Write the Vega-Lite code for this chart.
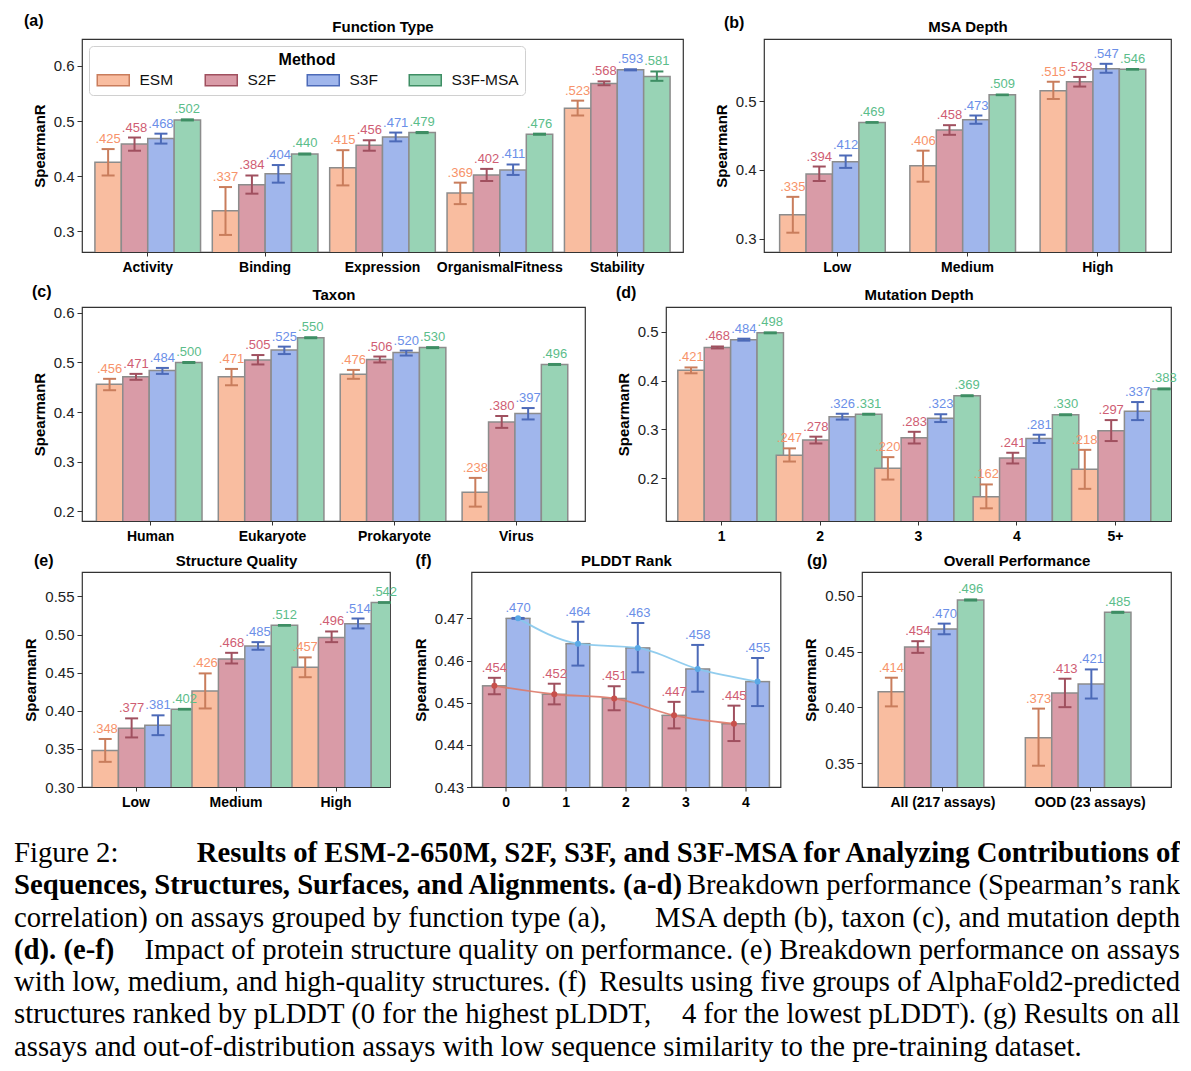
{
"$schema": "https://vega.github.io/schema/vega-lite/v6.json",
"padding": {"left": 14, "top": 12, "right": 0, "bottom": 0},
"autosize": {"type": "pad"},
"config": {
  "font": "Liberation Sans",
  "view": {"stroke": "#333333", "strokeWidth": 1.2},
  "axis": {"grid": false, "domain": false, "labelFontSize": 15, "labelColor": "#222222", "tickColor": "#333333", "tickSize": 5, "titleFontSize": 15, "titleFontWeight": "bold", "titleColor": "#000000", "labelPadding": 3},
  "axisX": {"labelFontSize": 14, "labelFontWeight": "bold", "labelAngle": 0, "tickSize": 4, "labelPadding": 4, "labelColor": "#000000"},
  "axisY": {"titlePadding": 6},
  "title": {"fontSize": 16, "fontWeight": "bold", "anchor": "start", "frame": "group", "offset": 0, "color": "#000000"}
},
"datasets": {
  "a": [
    {"cat":"Activity","m":"ESM","v":0.425,"lo":0.401,"hi":0.449,"lab":".425"},
    {"cat":"Activity","m":"S2F","v":0.458,"lo":0.446,"hi":0.470,"lab":".458"},
    {"cat":"Activity","m":"S3F","v":0.468,"lo":0.459,"hi":0.477,"lab":".468"},
    {"cat":"Activity","m":"S3F-MSA","v":0.502,"lo":0.501,"hi":0.503,"lab":".502"},
    {"cat":"Binding","m":"ESM","v":0.337,"lo":0.293,"hi":0.380,"lab":".337"},
    {"cat":"Binding","m":"S2F","v":0.384,"lo":0.368,"hi":0.401,"lab":".384"},
    {"cat":"Binding","m":"S3F","v":0.404,"lo":0.388,"hi":0.420,"lab":".404"},
    {"cat":"Binding","m":"S3F-MSA","v":0.440,"lo":0.439,"hi":0.441,"lab":".440"},
    {"cat":"Expression","m":"ESM","v":0.415,"lo":0.383,"hi":0.447,"lab":".415"},
    {"cat":"Expression","m":"S2F","v":0.456,"lo":0.446,"hi":0.465,"lab":".456"},
    {"cat":"Expression","m":"S3F","v":0.471,"lo":0.463,"hi":0.479,"lab":".471"},
    {"cat":"Expression","m":"S3F-MSA","v":0.479,"lo":0.478,"hi":0.480,"lab":".479"},
    {"cat":"OrganismalFitness","m":"ESM","v":0.369,"lo":0.349,"hi":0.388,"lab":".369"},
    {"cat":"OrganismalFitness","m":"S2F","v":0.402,"lo":0.391,"hi":0.413,"lab":".402"},
    {"cat":"OrganismalFitness","m":"S3F","v":0.411,"lo":0.402,"hi":0.421,"lab":".411"},
    {"cat":"OrganismalFitness","m":"S3F-MSA","v":0.476,"lo":0.475,"hi":0.477,"lab":".476"},
    {"cat":"Stability","m":"ESM","v":0.523,"lo":0.510,"hi":0.537,"lab":".523"},
    {"cat":"Stability","m":"S2F","v":0.568,"lo":0.565,"hi":0.572,"lab":".568"},
    {"cat":"Stability","m":"S3F","v":0.593,"lo":0.592,"hi":0.594,"lab":".593"},
    {"cat":"Stability","m":"S3F-MSA","v":0.581,"lo":0.573,"hi":0.590,"lab":".581"}
  ],
  "b": [
    {"cat":"Low","m":"ESM","v":0.335,"lo":0.309,"hi":0.361,"lab":".335"},
    {"cat":"Low","m":"S2F","v":0.394,"lo":0.384,"hi":0.405,"lab":".394"},
    {"cat":"Low","m":"S3F","v":0.412,"lo":0.403,"hi":0.421,"lab":".412"},
    {"cat":"Low","m":"S3F-MSA","v":0.469,"lo":0.4685,"hi":0.4695,"lab":".469"},
    {"cat":"Medium","m":"ESM","v":0.406,"lo":0.383,"hi":0.428,"lab":".406"},
    {"cat":"Medium","m":"S2F","v":0.458,"lo":0.451,"hi":0.465,"lab":".458"},
    {"cat":"Medium","m":"S3F","v":0.473,"lo":0.467,"hi":0.479,"lab":".473"},
    {"cat":"Medium","m":"S3F-MSA","v":0.509,"lo":0.5085,"hi":0.5095,"lab":".509"},
    {"cat":"High","m":"ESM","v":0.515,"lo":0.503,"hi":0.528,"lab":".515"},
    {"cat":"High","m":"S2F","v":0.528,"lo":0.521,"hi":0.535,"lab":".528"},
    {"cat":"High","m":"S3F","v":0.547,"lo":0.541,"hi":0.554,"lab":".547"},
    {"cat":"High","m":"S3F-MSA","v":0.546,"lo":0.5455,"hi":0.5465,"lab":".546"}
  ],
  "c": [
    {"cat":"Human","m":"ESM","v":0.456,"lo":0.444,"hi":0.467,"lab":".456"},
    {"cat":"Human","m":"S2F","v":0.471,"lo":0.465,"hi":0.477,"lab":".471"},
    {"cat":"Human","m":"S3F","v":0.484,"lo":0.477,"hi":0.489,"lab":".484"},
    {"cat":"Human","m":"S3F-MSA","v":0.500,"lo":0.499,"hi":0.501,"lab":".500"},
    {"cat":"Eukaryote","m":"ESM","v":0.471,"lo":0.454,"hi":0.487,"lab":".471"},
    {"cat":"Eukaryote","m":"S2F","v":0.505,"lo":0.496,"hi":0.515,"lab":".505"},
    {"cat":"Eukaryote","m":"S3F","v":0.525,"lo":0.517,"hi":0.532,"lab":".525"},
    {"cat":"Eukaryote","m":"S3F-MSA","v":0.550,"lo":0.549,"hi":0.551,"lab":".550"},
    {"cat":"Prokaryote","m":"ESM","v":0.476,"lo":0.467,"hi":0.485,"lab":".476"},
    {"cat":"Prokaryote","m":"S2F","v":0.506,"lo":0.500,"hi":0.512,"lab":".506"},
    {"cat":"Prokaryote","m":"S3F","v":0.520,"lo":0.514,"hi":0.524,"lab":".520"},
    {"cat":"Prokaryote","m":"S3F-MSA","v":0.530,"lo":0.529,"hi":0.531,"lab":".530"},
    {"cat":"Virus","m":"ESM","v":0.238,"lo":0.209,"hi":0.267,"lab":".238"},
    {"cat":"Virus","m":"S2F","v":0.380,"lo":0.368,"hi":0.392,"lab":".380"},
    {"cat":"Virus","m":"S3F","v":0.397,"lo":0.385,"hi":0.408,"lab":".397"},
    {"cat":"Virus","m":"S3F-MSA","v":0.496,"lo":0.495,"hi":0.497,"lab":".496"}
  ],
  "d": [
    {"cat":"1","m":"ESM","v":0.421,"lo":0.415,"hi":0.427,"lab":".421"},
    {"cat":"1","m":"S2F","v":0.468,"lo":0.466,"hi":0.470,"lab":".468"},
    {"cat":"1","m":"S3F","v":0.484,"lo":0.482,"hi":0.486,"lab":".484"},
    {"cat":"1","m":"S3F-MSA","v":0.498,"lo":0.497,"hi":0.499,"lab":".498"},
    {"cat":"2","m":"ESM","v":0.247,"lo":0.234,"hi":0.261,"lab":".247"},
    {"cat":"2","m":"S2F","v":0.278,"lo":0.271,"hi":0.285,"lab":".278"},
    {"cat":"2","m":"S3F","v":0.326,"lo":0.320,"hi":0.332,"lab":".326"},
    {"cat":"2","m":"S3F-MSA","v":0.331,"lo":0.330,"hi":0.332,"lab":".331"},
    {"cat":"3","m":"ESM","v":0.220,"lo":0.197,"hi":0.243,"lab":".220"},
    {"cat":"3","m":"S2F","v":0.283,"lo":0.271,"hi":0.295,"lab":".283"},
    {"cat":"3","m":"S3F","v":0.323,"lo":0.315,"hi":0.331,"lab":".323"},
    {"cat":"3","m":"S3F-MSA","v":0.369,"lo":0.368,"hi":0.370,"lab":".369"},
    {"cat":"4","m":"ESM","v":0.162,"lo":0.138,"hi":0.187,"lab":".162"},
    {"cat":"4","m":"S2F","v":0.241,"lo":0.230,"hi":0.252,"lab":".241"},
    {"cat":"4","m":"S3F","v":0.281,"lo":0.272,"hi":0.289,"lab":".281"},
    {"cat":"4","m":"S3F-MSA","v":0.330,"lo":0.329,"hi":0.331,"lab":".330"},
    {"cat":"5+","m":"ESM","v":0.218,"lo":0.178,"hi":0.258,"lab":".218"},
    {"cat":"5+","m":"S2F","v":0.297,"lo":0.276,"hi":0.319,"lab":".297"},
    {"cat":"5+","m":"S3F","v":0.337,"lo":0.319,"hi":0.356,"lab":".337"},
    {"cat":"5+","m":"S3F-MSA","v":0.383,"lo":0.382,"hi":0.384,"lab":".383"}
  ],
  "e": [
    {"cat":"Low","m":"ESM","v":0.348,"lo":0.333,"hi":0.363,"lab":".348"},
    {"cat":"Low","m":"S2F","v":0.377,"lo":0.365,"hi":0.390,"lab":".377"},
    {"cat":"Low","m":"S3F","v":0.381,"lo":0.368,"hi":0.394,"lab":".381"},
    {"cat":"Low","m":"S3F-MSA","v":0.402,"lo":0.4015,"hi":0.4025,"lab":".402"},
    {"cat":"Medium","m":"ESM","v":0.426,"lo":0.403,"hi":0.449,"lab":".426"},
    {"cat":"Medium","m":"S2F","v":0.468,"lo":0.462,"hi":0.476,"lab":".468"},
    {"cat":"Medium","m":"S3F","v":0.485,"lo":0.480,"hi":0.490,"lab":".485"},
    {"cat":"Medium","m":"S3F-MSA","v":0.512,"lo":0.5115,"hi":0.5125,"lab":".512"},
    {"cat":"High","m":"ESM","v":0.457,"lo":0.444,"hi":0.470,"lab":".457"},
    {"cat":"High","m":"S2F","v":0.496,"lo":0.490,"hi":0.504,"lab":".496"},
    {"cat":"High","m":"S3F","v":0.514,"lo":0.508,"hi":0.521,"lab":".514"},
    {"cat":"High","m":"S3F-MSA","v":0.542,"lo":0.5415,"hi":0.5425,"lab":".542"}
  ],
  "f": [
    {"cat":"0","m":"S2F","v":0.454,"lo":0.4520,"hi":0.4559,"lab":".454"},
    {"cat":"0","m":"S3F","v":0.470,"lo":0.4699,"hi":0.4701,"lab":".470"},
    {"cat":"1","m":"S2F","v":0.452,"lo":0.4496,"hi":0.4545,"lab":".452"},
    {"cat":"1","m":"S3F","v":0.464,"lo":0.4588,"hi":0.4692,"lab":".464"},
    {"cat":"2","m":"S2F","v":0.451,"lo":0.4482,"hi":0.4539,"lab":".451"},
    {"cat":"2","m":"S3F","v":0.463,"lo":0.4572,"hi":0.4689,"lab":".463"},
    {"cat":"3","m":"S2F","v":0.447,"lo":0.4439,"hi":0.4502,"lab":".447"},
    {"cat":"3","m":"S3F","v":0.458,"lo":0.4526,"hi":0.4637,"lab":".458"},
    {"cat":"4","m":"S2F","v":0.445,"lo":0.4409,"hi":0.4493,"lab":".445"},
    {"cat":"4","m":"S3F","v":0.455,"lo":0.4492,"hi":0.4606,"lab":".455"}
  ],
  "g": [
    {"cat":"All (217 assays)","m":"ESM","v":0.414,"lo":0.4010,"hi":0.4266,"lab":".414"},
    {"cat":"All (217 assays)","m":"S2F","v":0.454,"lo":0.4488,"hi":0.4592,"lab":".454"},
    {"cat":"All (217 assays)","m":"S3F","v":0.470,"lo":0.4654,"hi":0.4749,"lab":".470"},
    {"cat":"All (217 assays)","m":"S3F-MSA","v":0.496,"lo":0.4955,"hi":0.4965,"lab":".496"},
    {"cat":"OOD (23 assays)","m":"ESM","v":0.373,"lo":0.348,"hi":0.399,"lab":".373"},
    {"cat":"OOD (23 assays)","m":"S2F","v":0.413,"lo":0.4003,"hi":0.4257,"lab":".413"},
    {"cat":"OOD (23 assays)","m":"S3F","v":0.421,"lo":0.408,"hi":0.434,"lab":".421"},
    {"cat":"OOD (23 assays)","m":"S3F-MSA","v":0.485,"lo":0.4845,"hi":0.4855,"lab":".485"}
  ],
  "caption": [
    {"line":1,"part":"start","bold":false,"text":"Figure 2:"},
    {"line":1,"part":"end","bold":true,"text":"Results of ESM-2-650M, S2F, S3F, and S3F-MSA for Analyzing Contributions of"},
    {"line":2,"part":"start","bold":true,"text":"Sequences, Structures, Surfaces, and Alignments. (a-d)"},
    {"line":2,"part":"end","bold":false,"text":"Breakdown performance (Spearman’s rank"},
    {"line":3,"part":"start","bold":false,"text":"correlation) on assays grouped by function type (a),"},
    {"line":3,"part":"end","bold":false,"text":"MSA depth (b), taxon (c), and mutation depth"},
    {"line":4,"part":"start","bold":true,"text":"(d). (e-f)"},
    {"line":4,"part":"end","bold":false,"text":"Impact of protein structure quality on performance. (e) Breakdown performance on assays"},
    {"line":5,"part":"start","bold":false,"text":"with low, medium, and high-quality structures. (f)"},
    {"line":5,"part":"end","bold":false,"text":"Results using five groups of AlphaFold2-predicted"},
    {"line":6,"part":"start","bold":false,"text":"structures ranked by pLDDT (0 for the highest pLDDT,"},
    {"line":6,"part":"end","bold":false,"text":"4 for the lowest pLDDT). (g) Results on all"},
    {"line":7,"part":"start","bold":false,"text":"assays and out-of-distribution assays with low sequence similarity to the pre-training dataset."}
  ]
},
"spacing": 8,
"bounds": "full",
"resolve": {"scale": {"fill": "independent", "stroke": "independent", "color": "independent"}, "legend": {"fill": "independent", "stroke": "independent", "color": "independent"}},
"vconcat": [
  {
    "spacing": 81,
    "bounds": "flush",
    "resolve": {"scale": {"fill": "independent", "stroke": "independent", "color": "independent"}, "legend": {"fill": "independent", "stroke": "independent", "color": "independent"}},
    "hconcat": [
      {
        "width": 601, "height": 213,
        "data": {"name": "a"},
        "title": {"text": "(a)", "dx": -58, "dy": 14},
        "resolve": {"axis": {"x": "independent"}},
        "layer": [
          {"mark": {"type": "bar", "clip": true, "stroke": "#8c8c8c", "strokeWidth": 1.5},
           "encoding": {
             "x": {"field": "cat", "type": "nominal", "sort": null, "title": null, "scale": {"type": "band", "paddingInner": 0.1, "paddingOuter": 0.11}},
             "xOffset": {"field": "m", "type": "nominal", "sort": ["ESM","S2F","S3F","S3F-MSA"], "scale": {"type": "band"}},
             "y": {"field": "v", "type": "quantitative", "title": "SpearmanR", "scale": {"domain": [0.262, 0.649], "nice": false, "zero": false}, "axis": {"values": [0.3,0.4,0.5,0.6], "format": ".1f"}},
             "fill": {"field": "m", "type": "nominal", "scale": {"domain": ["ESM","S2F","S3F","S3F-MSA"], "range": ["#f9bda0","#d99ba7","#a0b6ec","#98d3b5"]},
               "legend": {"title": "Method", "orient": "top-left", "offset": 7, "direction": "horizontal", "columns": 4, "symbolType": "M-1,-1H4.82V1H-1Z", "symbolSize": 121, "symbolStrokeColor": "#8c8c8c", "symbolStrokeWidth": 1.5, "symbolOpacity": 1, "labelOffset": 29, "labelFontSize": 15.5, "labelColor": "#111111", "titleFontSize": 16, "titleFontWeight": "bold", "titleColor": "#000000", "titleAnchor": "middle", "titleAlign": "center", "titlePadding": 4, "columnPadding": 28, "padding": 6, "fillColor": "#ffffff", "strokeColor": "#d0d0d0", "cornerRadius": 4}}
           }},
          {"mark": {"type": "rule", "strokeWidth": 2},
           "encoding": {
             "x": {"field": "cat", "type": "nominal", "sort": null, "axis": null},
             "xOffset": {"field": "m", "type": "nominal", "sort": ["ESM","S2F","S3F","S3F-MSA"]},
             "y": {"field": "lo", "type": "quantitative", "title": "SpearmanR"},
             "y2": {"field": "hi"},
             "stroke": {"field": "m", "type": "nominal", "scale": {"domain": ["ESM","S2F","S3F","S3F-MSA"], "range": ["#c97d5c","#a0505f","#4c6ab8","#3e8e64"]}, "legend": null}
           }},
          {"mark": {"type": "point", "shape": "stroke", "size": 169, "strokeWidth": 2, "opacity": 1},
           "encoding": {
             "x": {"field": "cat", "type": "nominal", "sort": null, "axis": null},
             "xOffset": {"field": "m", "type": "nominal", "sort": ["ESM","S2F","S3F","S3F-MSA"]},
             "y": {"field": "lo", "type": "quantitative", "title": "SpearmanR"},
             "stroke": {"field": "m", "type": "nominal", "scale": {"domain": ["ESM","S2F","S3F","S3F-MSA"], "range": ["#c97d5c","#a0505f","#4c6ab8","#3e8e64"]}, "legend": null}
           }},
          {"mark": {"type": "point", "shape": "stroke", "size": 169, "strokeWidth": 2, "opacity": 1},
           "encoding": {
             "x": {"field": "cat", "type": "nominal", "sort": null, "axis": null},
             "xOffset": {"field": "m", "type": "nominal", "sort": ["ESM","S2F","S3F","S3F-MSA"]},
             "y": {"field": "hi", "type": "quantitative", "title": "SpearmanR"},
             "stroke": {"field": "m", "type": "nominal", "scale": {"domain": ["ESM","S2F","S3F","S3F-MSA"], "range": ["#c97d5c","#a0505f","#4c6ab8","#3e8e64"]}, "legend": null}
           }},
          {"mark": {"type": "text", "baseline": "alphabetic", "dy": -6, "fontSize": 13},
           "encoding": {
             "x": {"field": "cat", "type": "nominal", "sort": null, "axis": {"orient": "top", "title": "Function Type", "labels": false, "ticks": false, "domain": false, "minExtent": 0, "titlePadding": 5}},
             "xOffset": {"field": "m", "type": "nominal", "sort": ["ESM","S2F","S3F","S3F-MSA"]},
             "y": {"field": "hi", "type": "quantitative", "title": "SpearmanR"},
             "text": {"field": "lab"},
             "color": {"field": "m", "type": "nominal", "scale": {"domain": ["ESM","S2F","S3F","S3F-MSA"], "range": ["#f7936a","#cf5d73","#6b8fe8","#5bbd8a"]}, "legend": null}
           }}
        ]
      },
      {
        "width": 407, "height": 213,
        "data": {"name": "b"},
        "title": {"text": "(b)", "dx": -40, "dy": 16},
        "resolve": {"axis": {"x": "independent"}},
        "layer": [
          {"mark": {"type": "bar", "clip": true, "stroke": "#8c8c8c", "strokeWidth": 1.5},
           "encoding": {
             "x": {"field": "cat", "type": "nominal", "sort": null, "title": null, "scale": {"type": "band", "paddingInner": 0.115, "paddingOuter": 0.12}},
             "xOffset": {"field": "m", "type": "nominal", "sort": ["ESM","S2F","S3F","S3F-MSA"], "scale": {"type": "band"}},
             "y": {"field": "v", "type": "quantitative", "title": "SpearmanR", "scale": {"domain": [0.281, 0.590], "nice": false, "zero": false}, "axis": {"values": [0.3,0.4,0.5], "format": ".1f"}},
             "fill": {"field": "m", "type": "nominal", "scale": {"domain": ["ESM","S2F","S3F","S3F-MSA"], "range": ["#f9bda0","#d99ba7","#a0b6ec","#98d3b5"]}, "legend": null}
           }},
          {"mark": {"type": "rule", "strokeWidth": 2},
           "encoding": {
             "x": {"field": "cat", "type": "nominal", "sort": null, "axis": null},
             "xOffset": {"field": "m", "type": "nominal", "sort": ["ESM","S2F","S3F","S3F-MSA"]},
             "y": {"field": "lo", "type": "quantitative", "title": "SpearmanR"},
             "y2": {"field": "hi"},
             "stroke": {"field": "m", "type": "nominal", "scale": {"domain": ["ESM","S2F","S3F","S3F-MSA"], "range": ["#c97d5c","#a0505f","#4c6ab8","#3e8e64"]}, "legend": null}
           }},
          {"mark": {"type": "point", "shape": "stroke", "size": 169, "strokeWidth": 2, "opacity": 1},
           "encoding": {
             "x": {"field": "cat", "type": "nominal", "sort": null, "axis": null},
             "xOffset": {"field": "m", "type": "nominal", "sort": ["ESM","S2F","S3F","S3F-MSA"]},
             "y": {"field": "lo", "type": "quantitative", "title": "SpearmanR"},
             "stroke": {"field": "m", "type": "nominal", "scale": {"domain": ["ESM","S2F","S3F","S3F-MSA"], "range": ["#c97d5c","#a0505f","#4c6ab8","#3e8e64"]}, "legend": null}
           }},
          {"mark": {"type": "point", "shape": "stroke", "size": 169, "strokeWidth": 2, "opacity": 1},
           "encoding": {
             "x": {"field": "cat", "type": "nominal", "sort": null, "axis": null},
             "xOffset": {"field": "m", "type": "nominal", "sort": ["ESM","S2F","S3F","S3F-MSA"]},
             "y": {"field": "hi", "type": "quantitative", "title": "SpearmanR"},
             "stroke": {"field": "m", "type": "nominal", "scale": {"domain": ["ESM","S2F","S3F","S3F-MSA"], "range": ["#c97d5c","#a0505f","#4c6ab8","#3e8e64"]}, "legend": null}
           }},
          {"mark": {"type": "text", "baseline": "alphabetic", "dy": -6, "fontSize": 13},
           "encoding": {
             "x": {"field": "cat", "type": "nominal", "sort": null, "axis": {"orient": "top", "title": "MSA Depth", "labels": false, "ticks": false, "domain": false, "minExtent": 0, "titlePadding": 5}},
             "xOffset": {"field": "m", "type": "nominal", "sort": ["ESM","S2F","S3F","S3F-MSA"]},
             "y": {"field": "hi", "type": "quantitative", "title": "SpearmanR"},
             "text": {"field": "lab"},
             "color": {"field": "m", "type": "nominal", "scale": {"domain": ["ESM","S2F","S3F","S3F-MSA"], "range": ["#f7936a","#cf5d73","#6b8fe8","#5bbd8a"]}, "legend": null}
           }}
        ]
      }
    ]
  },
  {
    "spacing": 81,
    "bounds": "flush",
    "resolve": {"scale": {"fill": "independent", "stroke": "independent", "color": "independent"}, "legend": {"fill": "independent", "stroke": "independent", "color": "independent"}},
    "hconcat": [
      {
        "width": 503, "height": 214,
        "data": {"name": "c"},
        "title": {"text": "(c)", "dx": -50, "dy": 17},
        "resolve": {"axis": {"x": "independent"}},
        "layer": [
          {"mark": {"type": "bar", "clip": true, "stroke": "#8c8c8c", "strokeWidth": 1.5},
           "encoding": {
             "x": {"field": "cat", "type": "nominal", "sort": null, "title": null, "scale": {"type": "band", "paddingInner": 0.11, "paddingOuter": 0.118}},
             "xOffset": {"field": "m", "type": "nominal", "sort": ["ESM","S2F","S3F","S3F-MSA"], "scale": {"type": "band"}},
             "y": {"field": "v", "type": "quantitative", "title": "SpearmanR", "scale": {"domain": [0.180, 0.612], "nice": false, "zero": false}, "axis": {"values": [0.2,0.3,0.4,0.5,0.6], "format": ".1f"}},
             "fill": {"field": "m", "type": "nominal", "scale": {"domain": ["ESM","S2F","S3F","S3F-MSA"], "range": ["#f9bda0","#d99ba7","#a0b6ec","#98d3b5"]}, "legend": null}
           }},
          {"mark": {"type": "rule", "strokeWidth": 2},
           "encoding": {
             "x": {"field": "cat", "type": "nominal", "sort": null, "axis": null},
             "xOffset": {"field": "m", "type": "nominal", "sort": ["ESM","S2F","S3F","S3F-MSA"]},
             "y": {"field": "lo", "type": "quantitative", "title": "SpearmanR"},
             "y2": {"field": "hi"},
             "stroke": {"field": "m", "type": "nominal", "scale": {"domain": ["ESM","S2F","S3F","S3F-MSA"], "range": ["#c97d5c","#a0505f","#4c6ab8","#3e8e64"]}, "legend": null}
           }},
          {"mark": {"type": "point", "shape": "stroke", "size": 169, "strokeWidth": 2, "opacity": 1},
           "encoding": {
             "x": {"field": "cat", "type": "nominal", "sort": null, "axis": null},
             "xOffset": {"field": "m", "type": "nominal", "sort": ["ESM","S2F","S3F","S3F-MSA"]},
             "y": {"field": "lo", "type": "quantitative", "title": "SpearmanR"},
             "stroke": {"field": "m", "type": "nominal", "scale": {"domain": ["ESM","S2F","S3F","S3F-MSA"], "range": ["#c97d5c","#a0505f","#4c6ab8","#3e8e64"]}, "legend": null}
           }},
          {"mark": {"type": "point", "shape": "stroke", "size": 169, "strokeWidth": 2, "opacity": 1},
           "encoding": {
             "x": {"field": "cat", "type": "nominal", "sort": null, "axis": null},
             "xOffset": {"field": "m", "type": "nominal", "sort": ["ESM","S2F","S3F","S3F-MSA"]},
             "y": {"field": "hi", "type": "quantitative", "title": "SpearmanR"},
             "stroke": {"field": "m", "type": "nominal", "scale": {"domain": ["ESM","S2F","S3F","S3F-MSA"], "range": ["#c97d5c","#a0505f","#4c6ab8","#3e8e64"]}, "legend": null}
           }},
          {"mark": {"type": "text", "baseline": "alphabetic", "dy": -6, "fontSize": 13},
           "encoding": {
             "x": {"field": "cat", "type": "nominal", "sort": null, "axis": {"orient": "top", "title": "Taxon", "labels": false, "ticks": false, "domain": false, "minExtent": 0, "titlePadding": 5}},
             "xOffset": {"field": "m", "type": "nominal", "sort": ["ESM","S2F","S3F","S3F-MSA"]},
             "y": {"field": "hi", "type": "quantitative", "title": "SpearmanR"},
             "text": {"field": "lab"},
             "color": {"field": "m", "type": "nominal", "scale": {"domain": ["ESM","S2F","S3F","S3F-MSA"], "range": ["#f7936a","#cf5d73","#6b8fe8","#5bbd8a"]}, "legend": null}
           }}
        ]
      },
      {
        "width": 505, "height": 214,
        "data": {"name": "d"},
        "title": {"text": "(d)", "dx": -50, "dy": 18},
        "resolve": {"axis": {"x": "independent"}},
        "layer": [
          {"mark": {"type": "bar", "clip": true, "stroke": "#8c8c8c", "strokeWidth": 1.5},
           "encoding": {
             "x": {"field": "cat", "type": "nominal", "sort": null, "title": null, "scale": {"type": "band", "paddingInner": 0.11, "paddingOuter": 0.12}},
             "xOffset": {"field": "m", "type": "nominal", "sort": ["ESM","S2F","S3F","S3F-MSA"], "scale": {"type": "band"}},
             "y": {"field": "v", "type": "quantitative", "title": "SpearmanR", "scale": {"domain": [0.112, 0.551], "nice": false, "zero": false}, "axis": {"values": [0.2,0.3,0.4,0.5], "format": ".1f"}},
             "fill": {"field": "m", "type": "nominal", "scale": {"domain": ["ESM","S2F","S3F","S3F-MSA"], "range": ["#f9bda0","#d99ba7","#a0b6ec","#98d3b5"]}, "legend": null}
           }},
          {"mark": {"type": "rule", "strokeWidth": 2},
           "encoding": {
             "x": {"field": "cat", "type": "nominal", "sort": null, "axis": null},
             "xOffset": {"field": "m", "type": "nominal", "sort": ["ESM","S2F","S3F","S3F-MSA"]},
             "y": {"field": "lo", "type": "quantitative", "title": "SpearmanR"},
             "y2": {"field": "hi"},
             "stroke": {"field": "m", "type": "nominal", "scale": {"domain": ["ESM","S2F","S3F","S3F-MSA"], "range": ["#c97d5c","#a0505f","#4c6ab8","#3e8e64"]}, "legend": null}
           }},
          {"mark": {"type": "point", "shape": "stroke", "size": 169, "strokeWidth": 2, "opacity": 1},
           "encoding": {
             "x": {"field": "cat", "type": "nominal", "sort": null, "axis": null},
             "xOffset": {"field": "m", "type": "nominal", "sort": ["ESM","S2F","S3F","S3F-MSA"]},
             "y": {"field": "lo", "type": "quantitative", "title": "SpearmanR"},
             "stroke": {"field": "m", "type": "nominal", "scale": {"domain": ["ESM","S2F","S3F","S3F-MSA"], "range": ["#c97d5c","#a0505f","#4c6ab8","#3e8e64"]}, "legend": null}
           }},
          {"mark": {"type": "point", "shape": "stroke", "size": 169, "strokeWidth": 2, "opacity": 1},
           "encoding": {
             "x": {"field": "cat", "type": "nominal", "sort": null, "axis": null},
             "xOffset": {"field": "m", "type": "nominal", "sort": ["ESM","S2F","S3F","S3F-MSA"]},
             "y": {"field": "hi", "type": "quantitative", "title": "SpearmanR"},
             "stroke": {"field": "m", "type": "nominal", "scale": {"domain": ["ESM","S2F","S3F","S3F-MSA"], "range": ["#c97d5c","#a0505f","#4c6ab8","#3e8e64"]}, "legend": null}
           }},
          {"mark": {"type": "text", "baseline": "alphabetic", "dy": -6, "fontSize": 13},
           "encoding": {
             "x": {"field": "cat", "type": "nominal", "sort": null, "axis": {"orient": "top", "title": "Mutation Depth", "labels": false, "ticks": false, "domain": false, "minExtent": 0, "titlePadding": 5}},
             "xOffset": {"field": "m", "type": "nominal", "sort": ["ESM","S2F","S3F","S3F-MSA"]},
             "y": {"field": "hi", "type": "quantitative", "title": "SpearmanR"},
             "text": {"field": "lab"},
             "color": {"field": "m", "type": "nominal", "scale": {"domain": ["ESM","S2F","S3F","S3F-MSA"], "range": ["#f7936a","#cf5d73","#6b8fe8","#5bbd8a"]}, "legend": null}
           }}
        ]
      }
    ]
  },
  {
    "spacing": 81.5,
    "bounds": "flush",
    "resolve": {"scale": {"fill": "independent", "stroke": "independent", "color": "independent"}, "legend": {"fill": "independent", "stroke": "independent", "color": "independent"}},
    "hconcat": [
      {
        "width": 308, "height": 215,
        "data": {"name": "e"},
        "title": {"text": "(e)", "dx": -48, "dy": 20},
        "resolve": {"axis": {"x": "independent"}},
        "layer": [
          {"mark": {"type": "bar", "clip": true, "stroke": "#8c8c8c", "strokeWidth": 1.5},
           "encoding": {
             "x": {"field": "cat", "type": "nominal", "sort": null, "title": null, "scale": {"type": "band", "paddingInner": 0.12, "paddingOuter": 0.1}},
             "xOffset": {"field": "m", "type": "nominal", "sort": ["ESM","S2F","S3F","S3F-MSA"], "scale": {"type": "band"}},
             "y": {"field": "v", "type": "quantitative", "title": "SpearmanR", "scale": {"domain": [0.30, 0.582], "nice": false, "zero": false}, "axis": {"values": [0.30,0.35,0.40,0.45,0.50,0.55], "format": ".2f"}},
             "fill": {"field": "m", "type": "nominal", "scale": {"domain": ["ESM","S2F","S3F","S3F-MSA"], "range": ["#f9bda0","#d99ba7","#a0b6ec","#98d3b5"]}, "legend": null}
           }},
          {"mark": {"type": "rule", "strokeWidth": 2},
           "encoding": {
             "x": {"field": "cat", "type": "nominal", "sort": null, "axis": null},
             "xOffset": {"field": "m", "type": "nominal", "sort": ["ESM","S2F","S3F","S3F-MSA"]},
             "y": {"field": "lo", "type": "quantitative", "title": "SpearmanR"},
             "y2": {"field": "hi"},
             "stroke": {"field": "m", "type": "nominal", "scale": {"domain": ["ESM","S2F","S3F","S3F-MSA"], "range": ["#c97d5c","#a0505f","#4c6ab8","#3e8e64"]}, "legend": null}
           }},
          {"mark": {"type": "point", "shape": "stroke", "size": 169, "strokeWidth": 2, "opacity": 1},
           "encoding": {
             "x": {"field": "cat", "type": "nominal", "sort": null, "axis": null},
             "xOffset": {"field": "m", "type": "nominal", "sort": ["ESM","S2F","S3F","S3F-MSA"]},
             "y": {"field": "lo", "type": "quantitative", "title": "SpearmanR"},
             "stroke": {"field": "m", "type": "nominal", "scale": {"domain": ["ESM","S2F","S3F","S3F-MSA"], "range": ["#c97d5c","#a0505f","#4c6ab8","#3e8e64"]}, "legend": null}
           }},
          {"mark": {"type": "point", "shape": "stroke", "size": 169, "strokeWidth": 2, "opacity": 1},
           "encoding": {
             "x": {"field": "cat", "type": "nominal", "sort": null, "axis": null},
             "xOffset": {"field": "m", "type": "nominal", "sort": ["ESM","S2F","S3F","S3F-MSA"]},
             "y": {"field": "hi", "type": "quantitative", "title": "SpearmanR"},
             "stroke": {"field": "m", "type": "nominal", "scale": {"domain": ["ESM","S2F","S3F","S3F-MSA"], "range": ["#c97d5c","#a0505f","#4c6ab8","#3e8e64"]}, "legend": null}
           }},
          {"mark": {"type": "text", "baseline": "alphabetic", "dy": -6, "fontSize": 13},
           "encoding": {
             "x": {"field": "cat", "type": "nominal", "sort": null, "axis": {"orient": "top", "title": "Structure Quality", "labels": false, "ticks": false, "domain": false, "minExtent": 0, "titlePadding": 4}},
             "xOffset": {"field": "m", "type": "nominal", "sort": ["ESM","S2F","S3F","S3F-MSA"]},
             "y": {"field": "hi", "type": "quantitative", "title": "SpearmanR"},
             "text": {"field": "lab"},
             "color": {"field": "m", "type": "nominal", "scale": {"domain": ["ESM","S2F","S3F","S3F-MSA"], "range": ["#f7936a","#cf5d73","#6b8fe8","#5bbd8a"]}, "legend": null}
           }}
        ]
      },
      {
        "width": 309, "height": 215,
        "data": {"name": "f"},
        "title": {"text": "(f)", "dx": -56, "dy": 20},
        "resolve": {"axis": {"x": "independent"}},
        "layer": [
          {"transform": [{"filter": "datum.m == 'S2F'"}],
           "mark": {"type": "rule", "strokeWidth": 25.1, "color": "#8c8c8c"},
           "encoding": {
             "x": {"field": "cat", "type": "nominal", "sort": null, "title": null, "bandPosition": 0.25, "scale": {"type": "band", "paddingInner": 0.21, "paddingOuter": 0.185}},
             "y": {"field": "v", "type": "quantitative", "title": "SpearmanR", "scale": {"domain": [0.43, 0.481], "nice": false, "zero": false}, "axis": {"values": [0.43,0.44,0.45,0.46,0.47], "format": ".2f"}},
             "y2": {"datum": 0.43}
           }},
          {"transform": [{"filter": "datum.m == 'S3F'"}],
           "mark": {"type": "rule", "strokeWidth": 25.1, "color": "#8c8c8c"},
           "encoding": {
             "x": {"field": "cat", "type": "nominal", "sort": null, "axis": null, "bandPosition": 0.75},
             "y": {"field": "v", "type": "quantitative", "title": "SpearmanR"},
             "y2": {"datum": 0.43}
           }},
          {"transform": [{"filter": "datum.m == 'S2F'"}],
           "mark": {"type": "rule", "strokeWidth": 22.1, "color": "#d99ba7"},
           "encoding": {
             "x": {"field": "cat", "type": "nominal", "sort": null, "axis": null, "bandPosition": 0.25},
             "y": {"field": "v", "type": "quantitative", "title": "SpearmanR"},
             "y2": {"datum": 0.43}
           }},
          {"transform": [{"filter": "datum.m == 'S3F'"}],
           "mark": {"type": "rule", "strokeWidth": 22.1, "color": "#a0b6ec"},
           "encoding": {
             "x": {"field": "cat", "type": "nominal", "sort": null, "axis": null, "bandPosition": 0.75},
             "y": {"field": "v", "type": "quantitative", "title": "SpearmanR"},
             "y2": {"datum": 0.43}
           }},
          {"transform": [{"filter": "datum.m == 'S2F'"}],
           "mark": {"type": "point", "shape": "stroke", "size": 630, "strokeWidth": 1.5, "opacity": 1, "color": "#8c8c8c"},
           "encoding": {
             "x": {"field": "cat", "type": "nominal", "sort": null, "axis": null, "bandPosition": 0.25},
             "y": {"field": "v", "type": "quantitative", "title": "SpearmanR"}
           }},
          {"transform": [{"filter": "datum.m == 'S3F'"}],
           "mark": {"type": "point", "shape": "stroke", "size": 630, "strokeWidth": 1.5, "opacity": 1, "color": "#8c8c8c"},
           "encoding": {
             "x": {"field": "cat", "type": "nominal", "sort": null, "axis": null, "bandPosition": 0.75},
             "y": {"field": "v", "type": "quantitative", "title": "SpearmanR"}
           }},
          {"transform": [{"filter": "datum.m == 'S2F'"}],
           "mark": {"type": "line", "interpolate": "monotone", "strokeWidth": 1.8, "color": "#dd7a6a", "opacity": 0.9},
           "encoding": {
             "x": {"field": "cat", "type": "nominal", "sort": null, "axis": null, "bandPosition": 0.25},
             "y": {"field": "v", "type": "quantitative", "title": "SpearmanR"}
           }},
          {"transform": [{"filter": "datum.m == 'S3F'"}],
           "mark": {"type": "line", "interpolate": "monotone", "strokeWidth": 1.8, "color": "#86c8ec", "opacity": 0.9},
           "encoding": {
             "x": {"field": "cat", "type": "nominal", "sort": null, "axis": null, "bandPosition": 0.75},
             "y": {"field": "v", "type": "quantitative", "title": "SpearmanR"}
           }},
          {"transform": [{"filter": "datum.m == 'S2F'"}],
           "mark": {"type": "rule", "strokeWidth": 2, "color": "#a0505f"},
           "encoding": {
             "x": {"field": "cat", "type": "nominal", "sort": null, "axis": null, "bandPosition": 0.25},
             "y": {"field": "lo", "type": "quantitative", "title": "SpearmanR"},
             "y2": {"field": "hi"}
           }},
          {"transform": [{"filter": "datum.m == 'S3F'"}],
           "mark": {"type": "rule", "strokeWidth": 2, "color": "#4c6ab8"},
           "encoding": {
             "x": {"field": "cat", "type": "nominal", "sort": null, "axis": null, "bandPosition": 0.75},
             "y": {"field": "lo", "type": "quantitative", "title": "SpearmanR"},
             "y2": {"field": "hi"}
           }},
          {"transform": [{"filter": "datum.m == 'S2F'"}],
           "mark": {"type": "point", "shape": "stroke", "size": 169, "strokeWidth": 2, "opacity": 1, "color": "#a0505f"},
           "encoding": {
             "x": {"field": "cat", "type": "nominal", "sort": null, "axis": null, "bandPosition": 0.25},
             "y": {"field": "lo", "type": "quantitative", "title": "SpearmanR"}
           }},
          {"transform": [{"filter": "datum.m == 'S2F'"}],
           "mark": {"type": "point", "shape": "stroke", "size": 169, "strokeWidth": 2, "opacity": 1, "color": "#a0505f"},
           "encoding": {
             "x": {"field": "cat", "type": "nominal", "sort": null, "axis": null, "bandPosition": 0.25},
             "y": {"field": "hi", "type": "quantitative", "title": "SpearmanR"}
           }},
          {"transform": [{"filter": "datum.m == 'S3F'"}],
           "mark": {"type": "point", "shape": "stroke", "size": 169, "strokeWidth": 2, "opacity": 1, "color": "#4c6ab8"},
           "encoding": {
             "x": {"field": "cat", "type": "nominal", "sort": null, "axis": null, "bandPosition": 0.75},
             "y": {"field": "lo", "type": "quantitative", "title": "SpearmanR"}
           }},
          {"transform": [{"filter": "datum.m == 'S3F'"}],
           "mark": {"type": "point", "shape": "stroke", "size": 169, "strokeWidth": 2, "opacity": 1, "color": "#4c6ab8"},
           "encoding": {
             "x": {"field": "cat", "type": "nominal", "sort": null, "axis": null, "bandPosition": 0.75},
             "y": {"field": "hi", "type": "quantitative", "title": "SpearmanR"}
           }},
          {"transform": [{"filter": "datum.m == 'S2F'"}],
           "mark": {"type": "point", "filled": true, "size": 36, "opacity": 1, "color": "#c8504c"},
           "encoding": {
             "x": {"field": "cat", "type": "nominal", "sort": null, "axis": null, "bandPosition": 0.25},
             "y": {"field": "v", "type": "quantitative", "title": "SpearmanR"}
           }},
          {"transform": [{"filter": "datum.m == 'S3F'"}],
           "mark": {"type": "point", "filled": true, "size": 36, "opacity": 1, "color": "#5aa9e6"},
           "encoding": {
             "x": {"field": "cat", "type": "nominal", "sort": null, "axis": null, "bandPosition": 0.75},
             "y": {"field": "v", "type": "quantitative", "title": "SpearmanR"}
           }},
          {"transform": [{"filter": "datum.m == 'S2F'"}],
           "mark": {"type": "text", "baseline": "alphabetic", "dy": -6, "fontSize": 13, "color": "#cf5d73"},
           "encoding": {
             "x": {"field": "cat", "type": "nominal", "sort": null, "bandPosition": 0.25, "axis": {"orient": "top", "title": "PLDDT Rank", "labels": false, "ticks": false, "domain": false, "minExtent": 0, "titlePadding": 4}},
             "y": {"field": "hi", "type": "quantitative", "title": "SpearmanR"},
             "text": {"field": "lab"}
           }},
          {"transform": [{"filter": "datum.m == 'S3F'"}],
           "mark": {"type": "text", "baseline": "alphabetic", "dy": -6, "fontSize": 13, "color": "#6b8fe8"},
           "encoding": {
             "x": {"field": "cat", "type": "nominal", "sort": null, "axis": null, "bandPosition": 0.75},
             "y": {"field": "hi", "type": "quantitative", "title": "SpearmanR"},
             "text": {"field": "lab"}
           }}
        ]
      },
      {
        "width": 309, "height": 215,
        "data": {"name": "g"},
        "title": {"text": "(g)", "dx": -55, "dy": 20},
        "resolve": {"axis": {"x": "independent"}},
        "layer": [
          {"mark": {"type": "bar", "clip": true, "stroke": "#8c8c8c", "strokeWidth": 1.5},
           "encoding": {
             "x": {"field": "cat", "type": "nominal", "sort": null, "title": null, "scale": {"type": "band", "paddingInner": 0.12, "paddingOuter": 0.11}},
             "xOffset": {"field": "m", "type": "nominal", "sort": ["ESM","S2F","S3F","S3F-MSA"], "scale": {"type": "band"}},
             "y": {"field": "v", "type": "quantitative", "title": "SpearmanR", "scale": {"domain": [0.329, 0.521], "nice": false, "zero": false}, "axis": {"values": [0.35,0.40,0.45,0.50], "format": ".2f"}},
             "fill": {"field": "m", "type": "nominal", "scale": {"domain": ["ESM","S2F","S3F","S3F-MSA"], "range": ["#f9bda0","#d99ba7","#a0b6ec","#98d3b5"]}, "legend": null}
           }},
          {"mark": {"type": "rule", "strokeWidth": 2},
           "encoding": {
             "x": {"field": "cat", "type": "nominal", "sort": null, "axis": null},
             "xOffset": {"field": "m", "type": "nominal", "sort": ["ESM","S2F","S3F","S3F-MSA"]},
             "y": {"field": "lo", "type": "quantitative", "title": "SpearmanR"},
             "y2": {"field": "hi"},
             "stroke": {"field": "m", "type": "nominal", "scale": {"domain": ["ESM","S2F","S3F","S3F-MSA"], "range": ["#c97d5c","#a0505f","#4c6ab8","#3e8e64"]}, "legend": null}
           }},
          {"mark": {"type": "point", "shape": "stroke", "size": 169, "strokeWidth": 2, "opacity": 1},
           "encoding": {
             "x": {"field": "cat", "type": "nominal", "sort": null, "axis": null},
             "xOffset": {"field": "m", "type": "nominal", "sort": ["ESM","S2F","S3F","S3F-MSA"]},
             "y": {"field": "lo", "type": "quantitative", "title": "SpearmanR"},
             "stroke": {"field": "m", "type": "nominal", "scale": {"domain": ["ESM","S2F","S3F","S3F-MSA"], "range": ["#c97d5c","#a0505f","#4c6ab8","#3e8e64"]}, "legend": null}
           }},
          {"mark": {"type": "point", "shape": "stroke", "size": 169, "strokeWidth": 2, "opacity": 1},
           "encoding": {
             "x": {"field": "cat", "type": "nominal", "sort": null, "axis": null},
             "xOffset": {"field": "m", "type": "nominal", "sort": ["ESM","S2F","S3F","S3F-MSA"]},
             "y": {"field": "hi", "type": "quantitative", "title": "SpearmanR"},
             "stroke": {"field": "m", "type": "nominal", "scale": {"domain": ["ESM","S2F","S3F","S3F-MSA"], "range": ["#c97d5c","#a0505f","#4c6ab8","#3e8e64"]}, "legend": null}
           }},
          {"mark": {"type": "text", "baseline": "alphabetic", "dy": -6, "fontSize": 13},
           "encoding": {
             "x": {"field": "cat", "type": "nominal", "sort": null, "axis": {"orient": "top", "title": "Overall Performance", "labels": false, "ticks": false, "domain": false, "minExtent": 0, "titlePadding": 4}},
             "xOffset": {"field": "m", "type": "nominal", "sort": ["ESM","S2F","S3F","S3F-MSA"]},
             "y": {"field": "hi", "type": "quantitative", "title": "SpearmanR"},
             "text": {"field": "lab"},
             "color": {"field": "m", "type": "nominal", "scale": {"domain": ["ESM","S2F","S3F","S3F-MSA"], "range": ["#f7936a","#cf5d73","#6b8fe8","#5bbd8a"]}, "legend": null}
           }}
        ]
      }
    ]
  },
  {
    "width": 1089, "height": 229,
    "view": {"stroke": null},
    "data": {"name": "caption"},
    "encoding": {
      "x": {"field": "part", "type": "nominal", "scale": {"type": "point", "domain": ["start","end"], "range": [-68, 1098], "padding": 0}, "axis": null},
      "y": {"field": "line", "type": "quantitative", "scale": {"domain": [1, 7], "range": [35, 228.5]}, "axis": null},
      "text": {"field": "text"}
    },
    "layer": [
      {"transform": [{"filter": "datum.part == 'start' && !datum.bold"}], "mark": {"type": "text", "align": "left", "baseline": "middle", "font": "Liberation Serif", "fontSize": 28.7, "color": "#000000"}},
      {"transform": [{"filter": "datum.part == 'start' && datum.bold"}], "mark": {"type": "text", "align": "left", "baseline": "middle", "font": "Liberation Serif", "fontSize": 28.7, "fontWeight": "bold", "color": "#000000"}},
      {"transform": [{"filter": "datum.part == 'end' && !datum.bold"}], "mark": {"type": "text", "align": "right", "baseline": "middle", "font": "Liberation Serif", "fontSize": 28.7, "color": "#000000"}},
      {"transform": [{"filter": "datum.part == 'end' && datum.bold"}], "mark": {"type": "text", "align": "right", "baseline": "middle", "font": "Liberation Serif", "fontSize": 28.7, "fontWeight": "bold", "color": "#000000"}}
    ]
  }
]
}
